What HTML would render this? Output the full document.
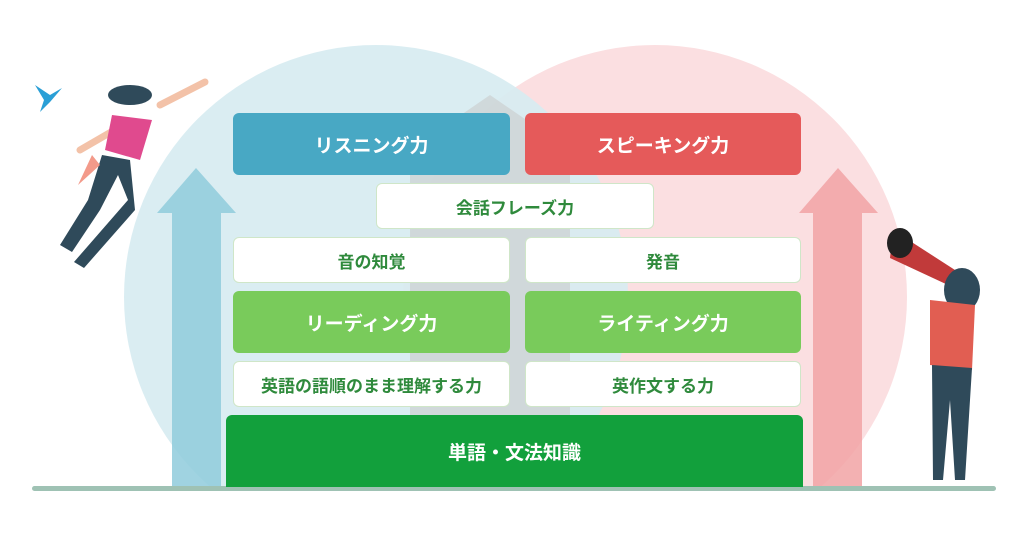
<!DOCTYPE html>
<html><head><meta charset="utf-8"><style>
body{margin:0;width:1024px;height:537px;background:#fff;overflow:hidden;position:relative;font-family:"Liberation Sans","Noto Sans CJK JP",sans-serif}
.b{position:absolute;display:flex;align-items:center;justify-content:center;border-radius:6px;font-weight:bold;box-sizing:border-box}
.w{background:#fff;border:1.5px solid #cfe6c8;color:#2f8a3c;font-size:17px}
.c{color:#fff;font-size:19px}
</style></head><body>
<svg width="1024" height="537" style="position:absolute;left:0;top:0">
<defs><clipPath id="g"><rect x="0" y="0" width="1024" height="488"/></clipPath></defs>
<g clip-path="url(#g)">
<circle cx="655" cy="297" r="252" fill="#fbdfe1"/>
<circle cx="376" cy="297" r="252" fill="#d7ebf1" opacity="0.92"/>
<polygon points="490,95 570,150 570,488 410,488 410,150" fill="#c9c9c9" opacity="0.55"/>
<polygon points="196,168 236,213 221,213 221,488 172,488 172,213 157,213" fill="#8fcbdc" opacity="0.85"/>
<polygon points="838,168 878,213 862,213 862,488 813,488 813,213 799,213" fill="#f1a3a5" opacity="0.85"/>
</g>
<rect x="32" y="486" width="964" height="5" rx="2.5" fill="#9fc2b4"/>
<path d="M160 105 L205 82" stroke="#f3c2a8" stroke-width="7" stroke-linecap="round"/>
<path d="M118 128 L80 150" stroke="#f3c2a8" stroke-width="7" stroke-linecap="round"/>
<ellipse cx="130" cy="95" rx="22" ry="10" fill="#2f4a5a"/>
<path d="M112 115 L152 120 L140 160 L105 150 Z" fill="#e04a8e"/>
<path d="M102 155 L88 200 L60 245 L72 252 L100 210 L118 175 L128 200 L74 262 L84 268 L135 210 L130 160Z" fill="#2f4a5a"/>
<path d="M92 155 L78 185 L100 165Z" fill="#f39a8a"/>
<path d="M35 85 L50 95 L62 88 L50 102 L40 112 L44 100Z" fill="#2a9fd6"/>
<path d="M893 230 L955 270 L948 285 L890 258Z" fill="#c13a3a"/>
<ellipse cx="900" cy="243" rx="13" ry="15" fill="#222"/>
<ellipse cx="962" cy="290" rx="18" ry="22" fill="#2f4a5a"/>
<path d="M930 300 L975 305 L972 370 L930 365Z" fill="#e15e52"/>
<path d="M932 365 L972 368 L965 480 L955 480 L950 400 L943 480 L933 480Z" fill="#2f4a5a"/>
</svg>
<div class="b c" style="left:233px;top:113px;width:277px;height:62px;background:#48a8c4">リスニング力</div>
<div class="b c" style="left:525px;top:113px;width:276px;height:62px;background:#e55a5a">スピーキング力</div>
<div class="b w" style="left:376px;top:183px;width:278px;height:46px">会話フレーズ力</div>
<div class="b w" style="left:233px;top:237px;width:277px;height:46px">音の知覚</div>
<div class="b w" style="left:525px;top:237px;width:276px;height:46px">発音</div>
<div class="b c" style="left:233px;top:291px;width:277px;height:62px;background:#79cb5b">リーディング力</div>
<div class="b c" style="left:525px;top:291px;width:276px;height:62px;background:#79cb5b">ライティング力</div>
<div class="b w" style="left:233px;top:361px;width:277px;height:46px">英語の語順のまま理解する力</div>
<div class="b w" style="left:525px;top:361px;width:276px;height:46px">英作文する力</div>
<div class="b c" style="left:226px;top:415px;width:577px;height:72px;background:#12a03c;border-radius:6px 6px 0 0">単語・文法知識</div>
</body></html>
